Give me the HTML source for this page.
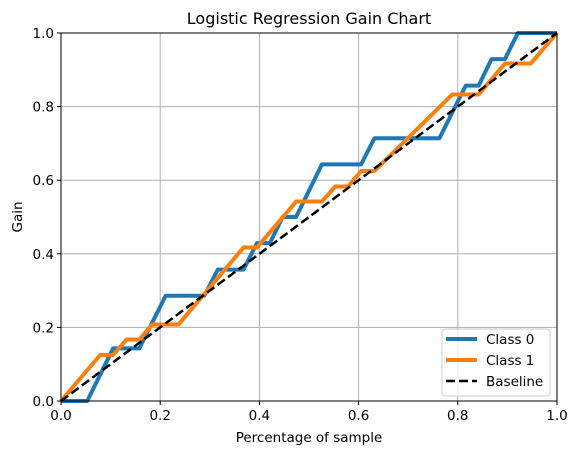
<!DOCTYPE html>
<html><head><meta charset="utf-8"><style>
body{margin:0;background:#fff}
svg text{font-family:"DejaVu Sans","Liberation Sans",sans-serif;fill:#000}
</style></head><body>
<svg id="chart" width="578" height="455" xmlns="http://www.w3.org/2000/svg">
<rect width="578" height="455" fill="#fff"/>
<g id="grid"></g>
<g id="series"></g>
<rect x="61" y="33" width="496" height="368" fill="none" stroke="#000" stroke-width="1"/>
<g id="ticks"></g>
<text x="309" y="24" font-size="16" text-anchor="middle">Logistic Regression Gain Chart</text>
<text x="309" y="442" font-size="13.5" text-anchor="middle">Percentage of sample</text>
<text transform="translate(22,217) rotate(-90)" font-size="13.5" text-anchor="middle">Gain</text>
<g>
<rect x="442" y="329" width="108" height="67" rx="3" fill="#fff" fill-opacity="0.8" stroke="#ccc"/>
<g><line x1="446" y1="339" x2="477" y2="339" stroke="#1f77b4" stroke-width="4"/><text x="486" y="344" font-size="13.5">Class 0</text></g>
<g><line x1="446" y1="360" x2="477" y2="360" stroke="#ff7f0e" stroke-width="4"/><text x="486" y="365" font-size="13.5">Class 1</text></g>
<g><line x1="446" y1="381" x2="477" y2="381" stroke="#000" stroke-width="2.5" stroke-dasharray="9,4"/><text x="486" y="386" font-size="13.5">Baseline</text></g>
</g>
</svg>
<script>
const tickValues=[0,0.2,0.4,0.6,0.8,1.0];
const tickLabels=["0.0","0.2","0.4","0.6","0.8","1.0"];
const class0X=[0,0.053,0.105,0.158,0.211,0.289,0.316,0.368,0.395,0.421,0.447,0.474,0.526,0.605,0.632,0.763,0.816,0.842,0.868,0.895,0.921,1];
const class0Y=[0,0,0.143,0.143,0.286,0.286,0.357,0.357,0.429,0.429,0.5,0.5,0.643,0.643,0.714,0.714,0.857,0.857,0.929,0.929,1,1];
const class1X=[0,0.079,0.105,0.132,0.158,0.184,0.237,0.368,0.395,0.474,0.526,0.553,0.579,0.605,0.632,0.789,0.842,0.895,0.947,1];
const class1Y=[0,0.125,0.125,0.167,0.167,0.208,0.208,0.417,0.417,0.542,0.542,0.583,0.583,0.625,0.625,0.833,0.833,0.917,0.917,1];
const baselineX=[0,1];
const baselineY=[0,1];
const NS="http://www.w3.org/2000/svg";
const X0=61,W=496,Y0=401,H=368;
function sx(v){return X0+v*W;}
function sy(v){return Y0-v*H;}
const grid=document.getElementById('grid'),ticks=document.getElementById('ticks'),series=document.getElementById('series');
function mk(tag,attrs,parent){const e=document.createElementNS(NS,tag);for(const k in attrs)e.setAttribute(k,attrs[k]);parent.appendChild(e);return e;}
tickValues.forEach((t,i)=>{
  const gx=mk('line',{x1:sx(t),x2:sx(t),y1:33,y2:401,stroke:'#b0b0b0','stroke-width':1},grid);
  
  
  const gy=mk('line',{x1:61,x2:557,y1:sy(t),y2:sy(t),stroke:'#b0b0b0','stroke-width':1},grid);
  
  
  mk('line',{x1:sx(t),x2:sx(t),y1:401,y2:405,stroke:'#000'},ticks);
  const tx=mk('text',{x:sx(t),y:420,'font-size':13.5,'text-anchor':'middle'},ticks);
  tx.textContent=tickLabels[i];
  
  
  mk('line',{x1:57,x2:61,y1:sy(t),y2:sy(t),stroke:'#000'},ticks);
  const ty=mk('text',{x:54,y:sy(t)+5,'font-size':13.5,'text-anchor':'end'},ticks);
  ty.textContent=tickLabels[i];
  
  
});
function pts(xs,ys){return xs.map((x,i)=>sx(x)+','+sy(ys[i])).join(' ');}
const l0=mk('polyline',{points:pts(class0X,class0Y),fill:'none',stroke:'#1f77b4','stroke-width':4,'stroke-linejoin':'round'},series);


const l1=mk('polyline',{points:pts(class1X,class1Y),fill:'none',stroke:'#ff7f0e','stroke-width':4,'stroke-linejoin':'round'},series);


const lb=mk('polyline',{points:pts(baselineX,baselineY),fill:'none',stroke:'#000','stroke-width':2.5,'stroke-dasharray':'9,4'},series);


</script>
</body></html>
